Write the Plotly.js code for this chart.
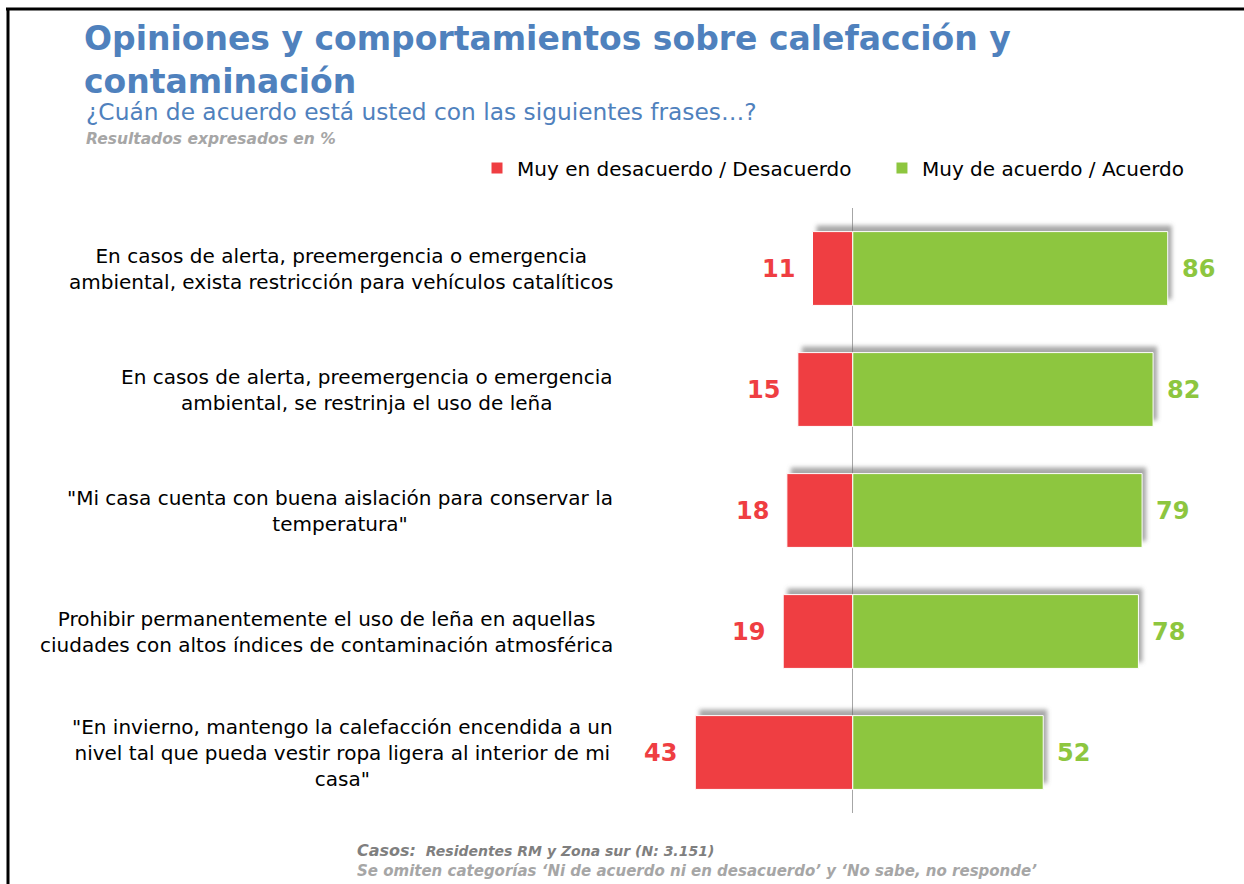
<!DOCTYPE html>
<html>
<head>
<meta charset="utf-8">
<script src="https://cdn.plot.ly/plotly-3.0.1.min.js"></script>
<style>
  html, body { margin: 0; padding: 0; background: #ffffff; }
  #chart { width: 1244px; height: 884px; }
</style>
</head>
<body>
<div id="chart"></div>
<script>
// ---------- data ----------
const categories = [
  "En casos de alerta, preemergencia o emergencia<br>ambiental, exista restricción para vehículos catalíticos",
  "En casos de alerta, preemergencia o emergencia<br>ambiental, se restrinja el uso de leña",
  "\"Mi casa cuenta con buena aislación para conservar la<br>temperatura\"",
  "Prohibir permanentemente el uso de leña en aquellas<br>ciudades con altos índices de contaminación atmosférica",
  "\"En invierno, mantengo la calefacción encendida a un<br>nivel tal que pueda vestir ropa ligera al interior de mi<br>casa\""
];
const desacuerdo = [11, 15, 18, 19, 43];
const acuerdo = [86, 82, 79, 78, 52];
const seriesNames = ["Muy en desacuerdo / Desacuerdo", "Muy de acuerdo / Acuerdo"];

// ---------- styling ----------
const RED = "#EF3E42";
const GREEN = "#8DC63F";
const BLUE = "#4F81BD";
const FONT = "DejaVu Sans, Verdana, sans-serif";

const W = 1244, H = 884;
const M = { l: 677, r: 25, t: 208, b: 71 };
const PW = W - M.l - M.r, PH = H - M.t - M.b;
const px = x => (x - M.l) / PW;          // pixel -> paper x
const py = y => (H - M.b - y) / PH;      // pixel -> paper y

const BAR_W = 0.61;
const LEGEND_PAD = "\u00a0\u00a0\u00a0\u00a0";   // extra spacing between legend entries

const shadow = {
  type: "bar", orientation: "h",
  y: categories,
  x: desacuerdo.map((d, i) => d + acuerdo[i]),
  base: desacuerdo.map(d => -d + 1.1),
  width: BAR_W, offset: -BAR_W / 2 - 0.05,
  marker: { color: "rgba(110,110,110,0.6)" },
  showlegend: false, hoverinfo: "skip"
};
const redTrace = {
  type: "bar", orientation: "h", name: seriesNames[0] + LEGEND_PAD,
  y: categories, x: desacuerdo.map(d => -d), base: 0,
  width: BAR_W,
  marker: { color: RED, line: { color: "#ffffff", width: 1 } },
  hovertemplate: "%{customdata}<extra></extra>", customdata: desacuerdo
};
const greenTrace = {
  type: "bar", orientation: "h", name: seriesNames[1],
  y: categories, x: acuerdo, base: 0,
  width: BAR_W,
  marker: { color: GREEN, line: { color: "#ffffff", width: 1 } },
  hovertemplate: "%{x}<extra></extra>"
};

const annotations = [];
categories.forEach((c, i) => {
  annotations.push({
    xref: "paper", yref: "y", x: px(615), y: c, xanchor: "right", yanchor: "middle",
    align: "center", showarrow: false, text: c,
    font: { family: FONT, size: 20, color: "#000000" }
  });
  annotations.push({
    xref: "x", yref: "y", x: -desacuerdo[i], y: c, xanchor: "right", yanchor: "middle",
    xshift: -16, showarrow: false, text: String(desacuerdo[i]),
    font: { family: FONT, size: 24, color: RED, weight: 700 }
  });
  annotations.push({
    xref: "x", yref: "y", x: acuerdo[i], y: c, xanchor: "left", yanchor: "middle",
    xshift: 12, showarrow: false, text: String(acuerdo[i]),
    font: { family: FONT, size: 24, color: GREEN, weight: 700 }
  });
});
annotations.push({
  xref: "paper", yref: "paper", x: px(84), y: py(112), xanchor: "left", yanchor: "middle",
  showarrow: false, text: "¿Cuán de acuerdo está usted con las siguientes frases…?",
  font: { family: FONT, size: 23.3, color: BLUE }
});
annotations.push({
  xref: "paper", yref: "paper", x: px(84), y: py(139), xanchor: "left", yanchor: "middle",
  showarrow: false, text: "<b><i>Resultados expresados en %</i></b>",
  font: { family: FONT, size: 15.5, color: "#A6A6A6" }
});
annotations.push({
  xref: "paper", yref: "paper", x: px(355), y: py(850), xanchor: "left", yanchor: "middle",
  showarrow: false,
  text: "<b><i><span style='font-size:16px'>Casos:</span>  Residentes RM y Zona sur (N: 3.151)</i></b>",
  font: { family: FONT, size: 14, color: "#7F7F7F" }
});
annotations.push({
  xref: "paper", yref: "paper", x: px(355), y: py(871), xanchor: "left", yanchor: "middle",
  showarrow: false,
  text: "<b><i>Se omiten categorías ‘Ni de acuerdo ni en desacuerdo’ y ‘No sabe, no responde’</i></b>",
  font: { family: FONT, size: 15, color: "#A6A6A6" }
});

const layout = {
  width: W, height: H,
  margin: M,
  paper_bgcolor: "#ffffff", plot_bgcolor: "#ffffff",
  barmode: "overlay",
  title: {
    text: "Opiniones y comportamientos sobre calefacción y<br>contaminación",
    xref: "container", yref: "container",
    x: 84 / W, xanchor: "left",
    y: 1 - 50 / H, yanchor: "top",
    font: { family: FONT, size: 33, color: BLUE, weight: 700 }
  },
  xaxis: {
    range: [-48, 100], showgrid: false, showticklabels: false, ticks: "",
    zeroline: true, zerolinecolor: "#A6A6A6", zerolinewidth: 1, fixedrange: true
  },
  yaxis: {
    type: "category", range: [4.5, -0.5], showgrid: false, showticklabels: false,
    ticks: "", zeroline: false, fixedrange: true
  },
  showlegend: true,
  legend: {
    orientation: "h", x: px(477), xanchor: "left", y: py(168), yanchor: "middle",
    font: { family: FONT, size: 20, color: "#000000" },
    traceorder: "normal", bgcolor: "rgba(0,0,0,0)"
  },
  annotations: annotations,
  shapes: [
    { type: "line", xref: "paper", yref: "paper", x0: px(6), x1: px(1244), y0: py(9), y1: py(9),
      line: { color: "#000000", width: 3 } },
    { type: "line", xref: "paper", yref: "paper", x0: px(8), x1: px(8), y0: py(8), y1: py(884),
      line: { color: "#000000", width: 3 } }
  ]
};

Plotly.newPlot("chart", [shadow, redTrace, greenTrace], layout, { displayModeBar: false, staticPlot: true })
  .then(gd => {
    const ns = "http://www.w3.org/2000/svg";
    const svg = gd.querySelector(".main-svg");
    let defs = svg.querySelector("defs");
    if (!defs) { defs = document.createElementNS(ns, "defs"); svg.insertBefore(defs, svg.firstChild); }
    const f = document.createElementNS(ns, "filter");
    f.setAttribute("id", "barShadowBlur");
    f.setAttribute("x", "-20%"); f.setAttribute("y", "-40%");
    f.setAttribute("width", "140%"); f.setAttribute("height", "180%");
    const b = document.createElementNS(ns, "feGaussianBlur");
    b.setAttribute("stdDeviation", "2");
    f.appendChild(b);
    defs.appendChild(f);
    const traces = gd.querySelectorAll(".barlayer .trace");
    if (traces.length) traces[0].setAttribute("filter", "url(#barShadowBlur)");
  });
</script>
</body>
</html>
